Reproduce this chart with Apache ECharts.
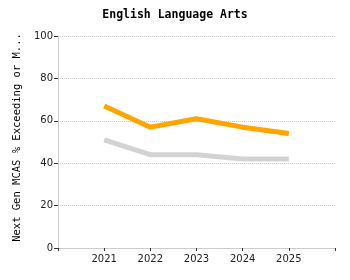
<!DOCTYPE html>
<html><head><meta charset="utf-8">
<script src="https://cdn.jsdelivr.net/npm/echarts@6/dist/echarts.min.js"></script>
<style>html,body{margin:0;padding:0;background:#fff}#c{width:350px;height:280px}</style>
</head><body><div id="c"></div>
<script>
const years = [2021, 2022, 2023, 2024, 2025];
const orangeValues = [67, 57, 61, 57, 54];
const grayValues = [51, 44, 44, 42, 42];
const yTicks = [0, 20, 40, 60, 80, 100];

const chart = echarts.init(document.getElementById('c'), null, {renderer: 'canvas'});
const mono = '"DejaVu Sans Mono", monospace';
const sans = '"DejaVu Sans", Verdana, sans-serif';
chart.setOption({
  animation: false,
  title: {
    text: 'English Language Arts', left: 'center', top: 4,
    textStyle: {fontFamily: mono, fontSize: 11.5, fontWeight: 'bold', color: '#000'}
  },
  grid: {left: 58, right: 15, top: 36, bottom: 32, containLabel: false},
  xAxis: {
    type: 'value', min: 2020, max: 2026, interval: 1,
    axisLine: {lineStyle: {color: '#ccc'}},
    axisTick: {show: true, length: 3, lineStyle: {color: '#333'}},
    splitLine: {show: false},
    axisLabel: {
      fontFamily: sans, fontSize: 10, color: '#222', margin: 6,
      formatter: v => years.includes(v) ? String(v) : ''
    }
  },
  yAxis: {
    type: 'value', min: yTicks[0], max: yTicks[yTicks.length - 1], interval: 20,
    name: 'Next Gen MCAS % Exceeding or Meeting Expectations',
    nameLocation: 'middle', nameGap: 31, nameRotate: 90,
    nameTruncate: {maxWidth: 212, ellipsis: '...'},
    nameTextStyle: {fontFamily: mono, fontSize: 10.5, color: '#000', padding: [0, 0, 0, 9]},
    axisLine: {show: true, lineStyle: {color: '#ccc'}},
    axisTick: {show: true, length: 4, lineStyle: {color: '#333'}},
    splitLine: {show: true, lineStyle: {color: '#c8c8c8', type: 'dotted'}},
    axisLabel: {fontFamily: sans, fontSize: 10, color: '#222', margin: 5}
  },
  series: [
    {type: 'line', data: years.map((y, i) => [y, grayValues[i]]), showSymbol: false,
     lineStyle: {color: '#d3d3d3', width: 5}, itemStyle: {color: '#d3d3d3'}},
    {type: 'line', data: years.map((y, i) => [y, orangeValues[i]]), showSymbol: false,
     lineStyle: {color: '#ffa500', width: 5}, itemStyle: {color: '#ffa500'}}
  ]
});
</script></body></html>
